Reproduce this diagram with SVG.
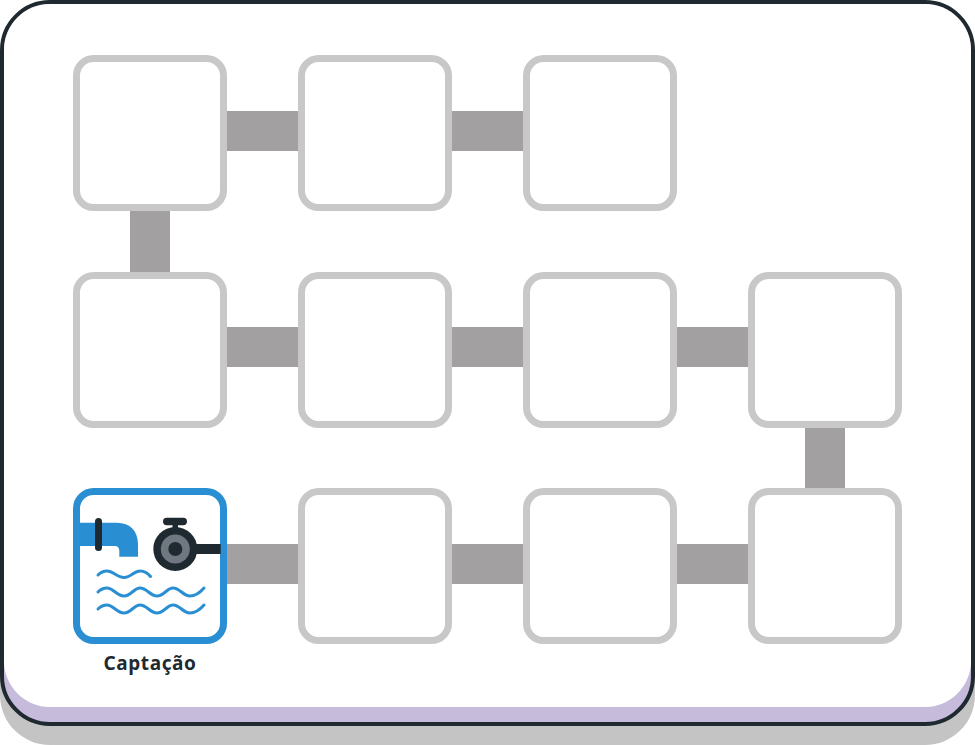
<svg xmlns="http://www.w3.org/2000/svg" width="975" height="745" viewBox="0 0 975 745">
<defs>
<style>
.node{fill:#fff;stroke:#c8c8c8;stroke-width:7}
.link{fill:#a2a0a0}
.wave{fill:none;stroke:#2a8fd2;stroke-width:3;stroke-linecap:round}
.dark{fill:#1f2a30}
.label{font-family:"Noto Sans","Open Sans",sans-serif;font-weight:700;font-size:19px;letter-spacing:.6px;fill:#1f2a30;text-anchor:middle}
</style>
<rect id="box" x="0" y="0" width="147" height="149" rx="17" class="node"/>
</defs>
<g id="frame">
<rect x="0" y="40" width="975" height="705" rx="50" fill="#c4c4c4"/>
<rect x="2" y="2" width="971" height="722" rx="48" fill="#c7bbdc" stroke="#1f2a30" stroke-width="4"/>
<rect x="4" y="4" width="967" height="703" rx="46" fill="#fff"/>
</g>
<g id="connectors">
<rect class="link" x="224" y="111" width="78" height="40"/>
<rect class="link" x="449" y="111" width="78" height="40"/>
<rect class="link" x="130" y="208" width="40" height="67"/>
<rect class="link" x="224" y="327" width="78" height="40"/>
<rect class="link" x="449" y="327" width="78" height="40"/>
<rect class="link" x="674" y="327" width="78" height="40"/>
<rect class="link" x="805" y="424" width="40" height="67"/>
<rect class="link" x="224" y="544" width="78" height="40"/>
<rect class="link" x="449" y="544" width="78" height="40"/>
<rect class="link" x="674" y="544" width="78" height="40"/>
</g>
<g id="node-r1c1"><use href="#box" x="76.500" y="58.500"/></g>
<g id="node-r1c2"><use href="#box" x="301.500" y="58.500"/></g>
<g id="node-r1c3"><use href="#box" x="526.500" y="58.500"/></g>
<g id="node-r2c1"><use href="#box" x="76.500" y="275.500"/></g>
<g id="node-r2c2"><use href="#box" x="301.500" y="275.500"/></g>
<g id="node-r2c3"><use href="#box" x="526.500" y="275.500"/></g>
<g id="node-r2c4"><use href="#box" x="751.500" y="275.500"/></g>
<g id="node-r3c2"><use href="#box" x="301.500" y="491.500"/></g>
<g id="node-r3c3"><use href="#box" x="526.500" y="491.500"/></g>
<g id="node-r3c4"><use href="#box" x="751.500" y="491.500"/></g>
<g id="node-captacao">
<rect x="76.500" y="491.500" width="147" height="149" rx="17" fill="#fff" stroke="#2a8fd2" stroke-width="7"/>
<path d="M80 522.700H117C130 522.700 138 531 138 544V556.700H119.300V551C119.300 548 118 546 115 546H80Z" fill="#2a8fd2"/>
<rect class="dark" x="95" y="518" width="7" height="33" rx="3.500"/>
<rect class="dark" x="163" y="517.700" width="24" height="7.500" rx="3.700"/>
<rect class="dark" x="172.500" y="523" width="5.500" height="6"/>
<rect class="dark" x="190" y="544" width="30.700" height="10"/>
<circle class="dark" cx="175.300" cy="549" r="22"/>
<circle cx="175.300" cy="549" r="14.500" fill="#6f7780"/>
<circle class="dark" cx="175.300" cy="549" r="7"/>
<path class="wave" d="M98 575Q102 571 107 571C113 571 117 577.500 124 577.500C131 577.500 134 571 140 571Q146 571 150.500 576.500"/>
<path class="wave" d="M98 592Q102 588 107 588C113 588 117 596 124 596C131 596 134 588 140 588C147 588 150 596 157 596C164 596 167 588 173 588C180 588 183 596 190 596Q197 596 204 588"/>
<path class="wave" d="M98 609Q102 605 107 605C113 605 117 613 124 613C131 613 134 605 140 605C147 605 150 613 157 613C164 613 167 605 173 605C180 605 183 613 190 613Q197 613 204 605"/>
<text class="label" x="150" y="670">Captação</text>
</g>
</svg>
